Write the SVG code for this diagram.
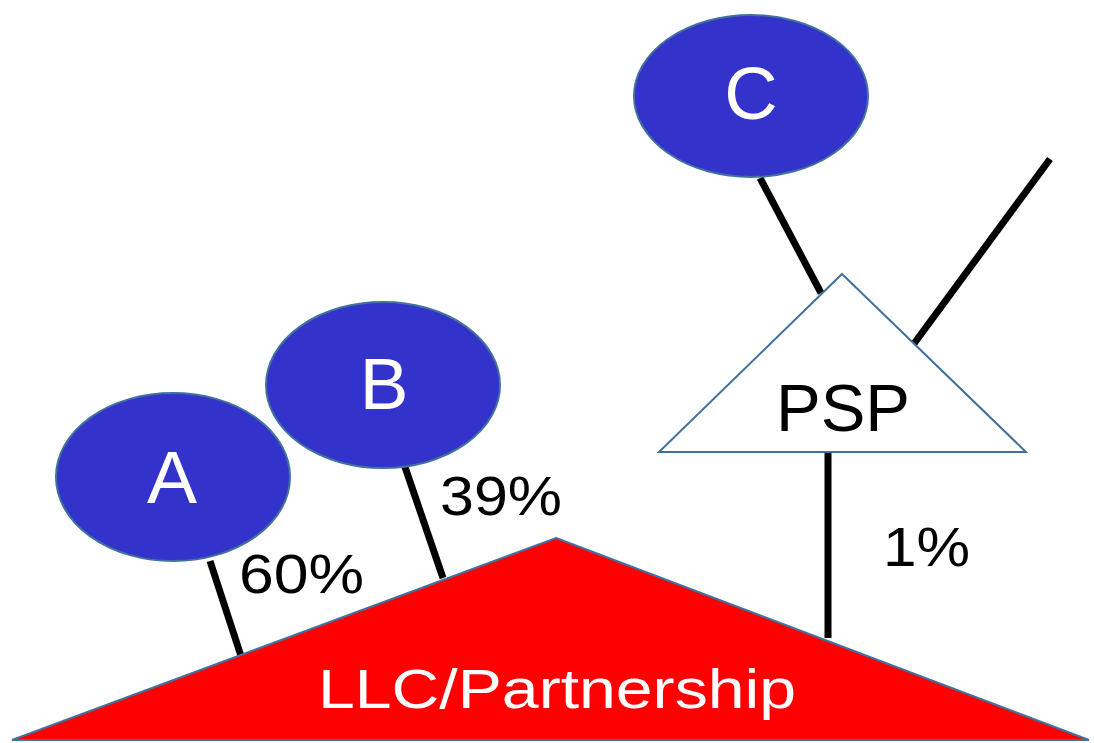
<svg xmlns="http://www.w3.org/2000/svg" width="1094" height="743" viewBox="0 0 1094 743">
  <style>
    .owner { fill: #3333CC; stroke: #41719C; stroke-width: 2; }
    .entity { stroke: #41719C; stroke-width: 2; stroke-linejoin: miter; }
    .link { stroke: #000000; stroke-width: 7; stroke-linecap: butt; fill: none; }
    .name { font-family: "Liberation Sans", Arial, sans-serif; text-anchor: middle; }
    .pct { font-family: "Liberation Sans", Arial, sans-serif; font-size: 56px; fill: #000000; }
  </style>
  <rect x="0" y="0" width="1094" height="743" fill="#FFFFFF"/>

  <!-- ownership connectors -->
  <g id="connectors">
    <line class="link" x1="210" y1="561" x2="241" y2="656"/>
    <line class="link" x1="405" y1="467" x2="443" y2="578"/>
    <line class="link" x1="760" y1="178" x2="821" y2="293"/>
    <line class="link" x1="1050" y1="159" x2="913" y2="345"/>
    <line class="link" x1="828" y1="452" x2="828" y2="638" stroke-width="8"/>
  </g>

  <g id="node-A">
    <ellipse class="owner" cx="173" cy="477" rx="117" ry="84"/>
    <text class="name" x="172" y="503" font-size="75" fill="#FFFFFF">A</text>
  </g>

  <g id="node-B">
    <ellipse class="owner" cx="383" cy="385" rx="117" ry="83"/>
    <text class="name" x="384" y="409" font-size="73" fill="#FFFFFF">B</text>
  </g>

  <g id="node-C">
    <ellipse class="owner" cx="751" cy="96" rx="117" ry="81"/>
    <text class="name" x="751" y="119" font-size="74" fill="#FFFFFF">C</text>
  </g>

  <g id="node-PSP">
    <polygon class="entity" fill="#FFFFFF" points="842,274 1026,452 659,452"/>
    <text class="name" x="843" y="431" font-size="67" fill="#000000">PSP</text>
  </g>

  <g id="node-LLC">
    <polygon class="entity" fill="#FF0000" points="556,538 1089,740 12,740"/>
    <text class="name" x="557" y="708" font-size="56" fill="#FFFFFF" textLength="478" lengthAdjust="spacingAndGlyphs">LLC/Partnership</text>
  </g>

  <!-- ownership shares -->
  <g id="labels">
    <text class="pct" x="239" y="593" textLength="125" lengthAdjust="spacingAndGlyphs">60%</text>
    <text class="pct" x="440" y="515" textLength="122" lengthAdjust="spacingAndGlyphs">39%</text>
    <text class="pct" x="883" y="566" textLength="87" lengthAdjust="spacingAndGlyphs">1%</text>
  </g>
</svg>
